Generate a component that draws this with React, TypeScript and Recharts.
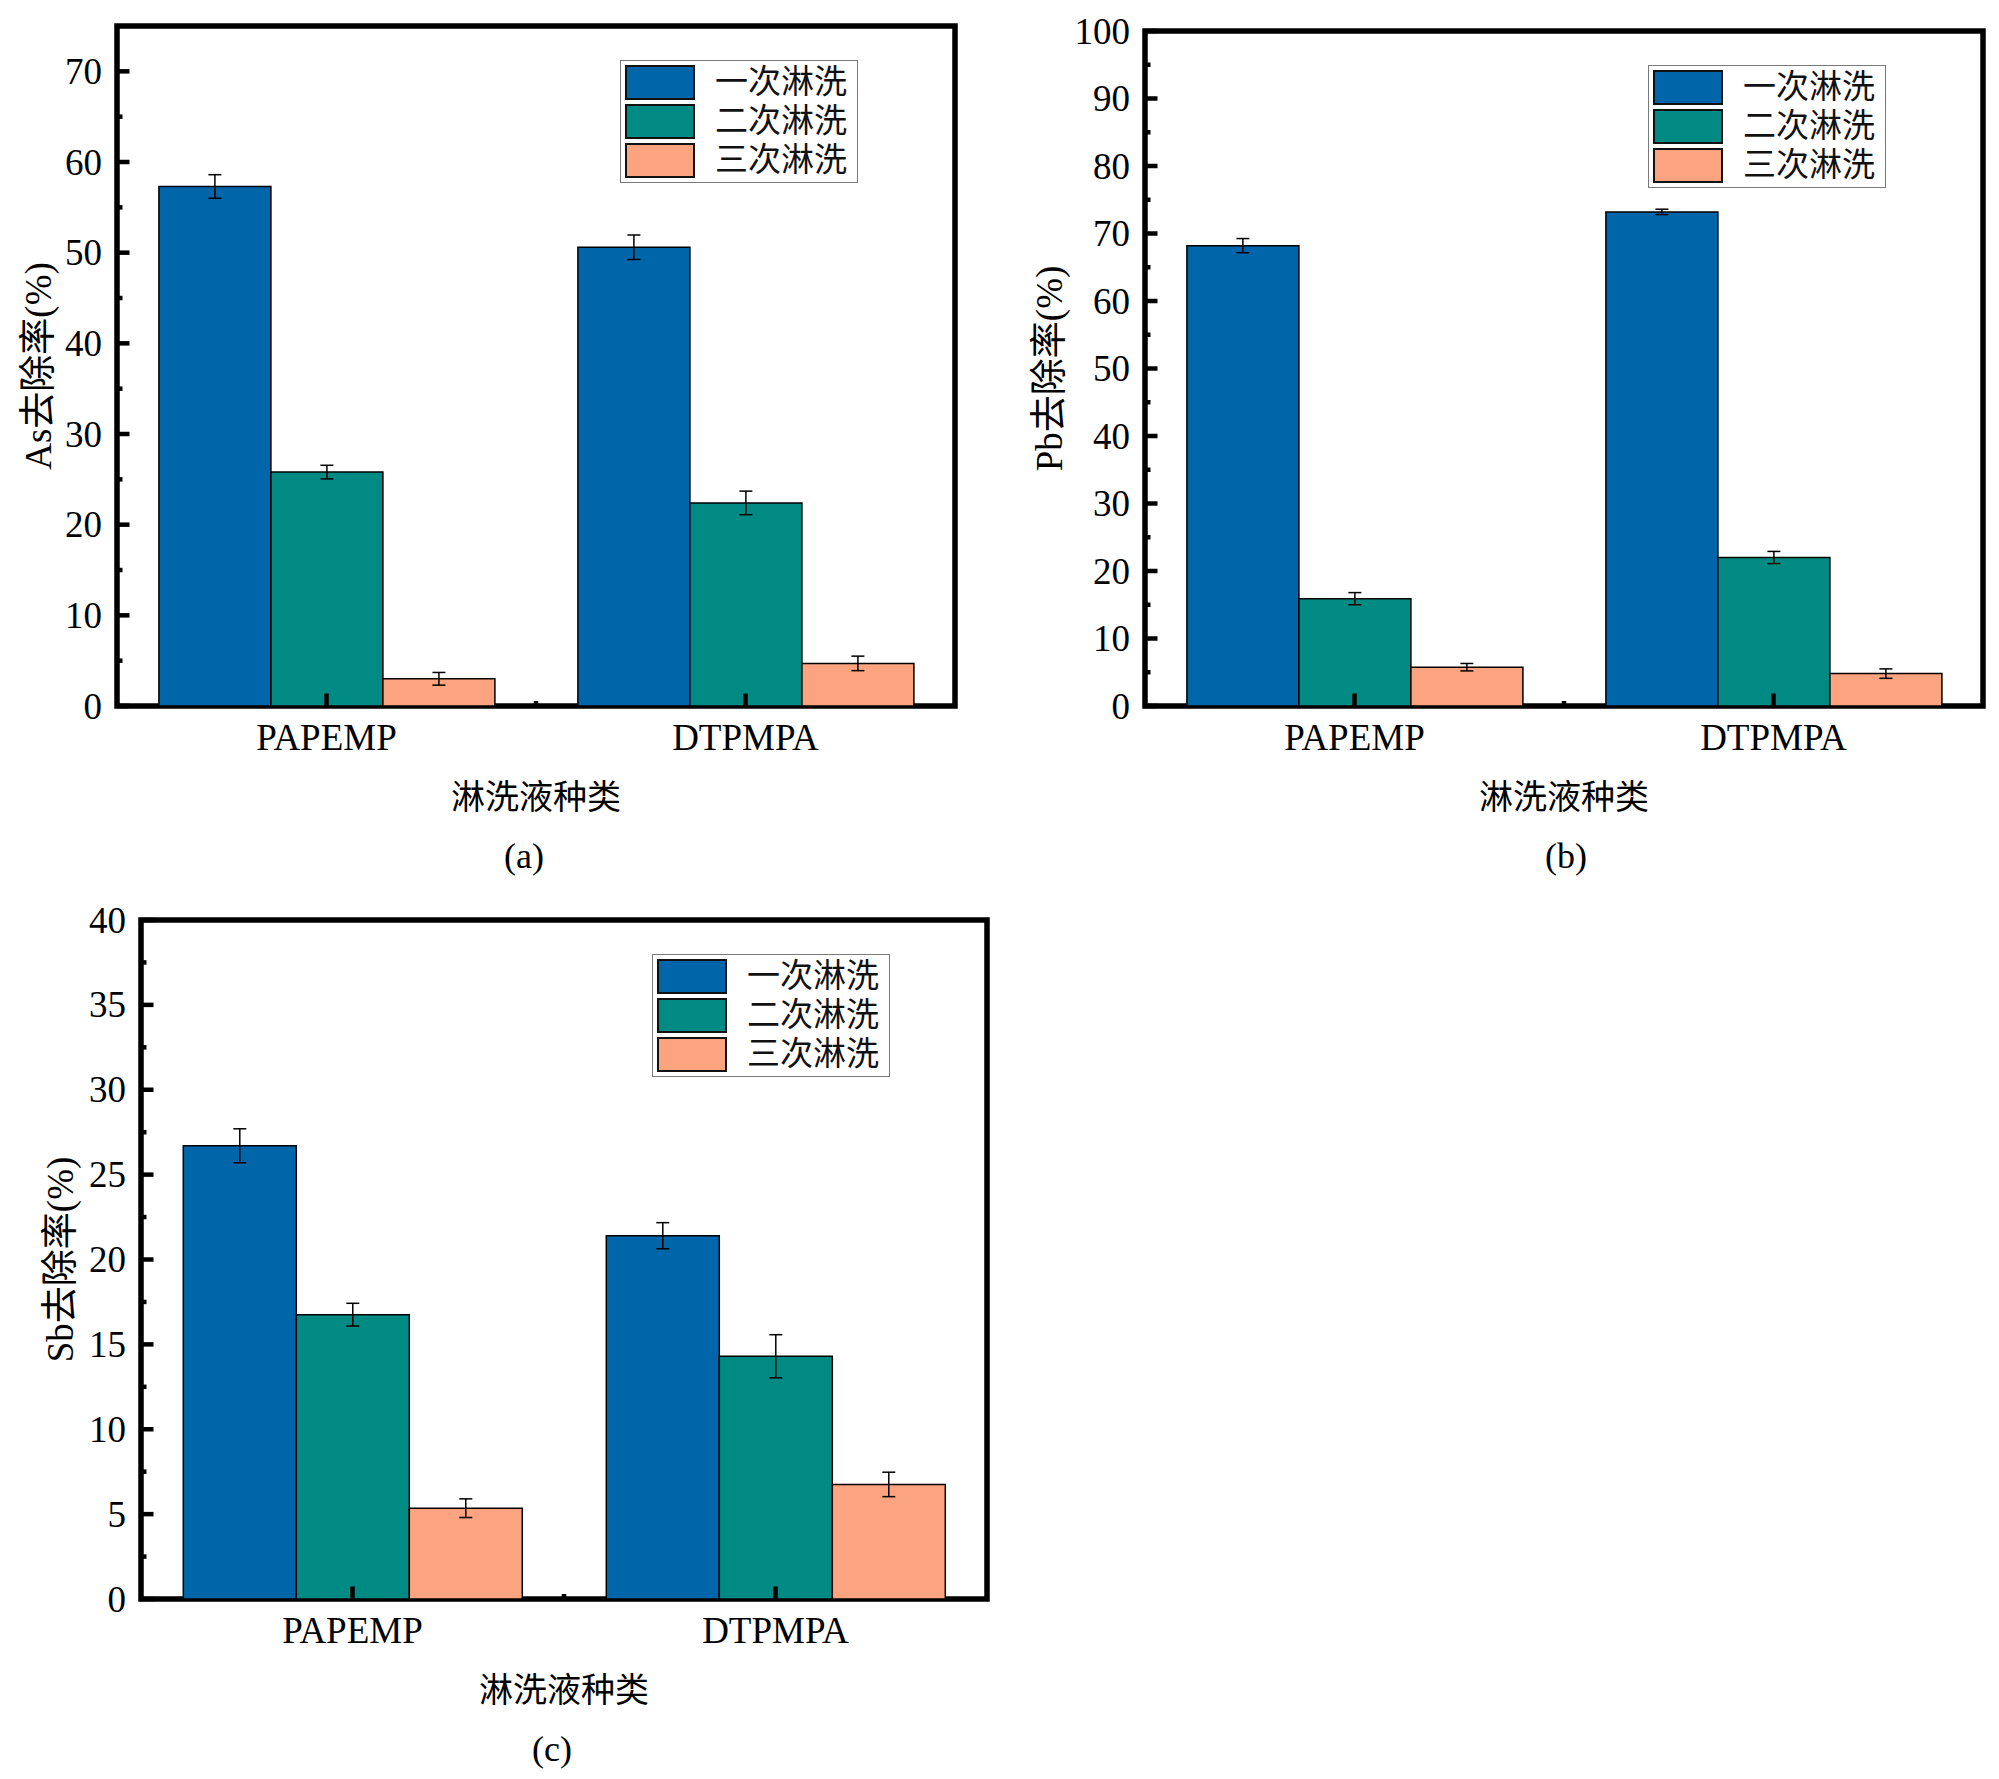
import React from 'react';
import { BarChart, Bar, XAxis, YAxis, ErrorBar, ReferenceArea } from 'recharts';

const SERIF = '"Liberation Serif", "Times New Roman", "Noto Sans CJK SC", serif';

const categories = ['PAPEMP', 'DTPMPA'];
const seriesNames = ['一次淋洗', '二次淋洗', '三次淋洗'];
const seriesColors = ['#0066A9', '#008A84', '#FCA47F'];

// (a) As removal
const asFirst = [57.3, 50.6];
const asFirstErr = [1.3, 1.35];
const asSecond = [25.8, 22.4];
const asSecondErr = [0.75, 1.3];
const asThird = [3.0, 4.7];
const asThirdErr = [0.7, 0.8];
const asMajorTicks = [0, 10, 20, 30, 40, 50, 60, 70];
const asMinorTicks = [5, 15, 25, 35, 45, 55, 65];

// (b) Pb removal
const pbFirst = [68.2, 73.2];
const pbFirstErr = [1.05, 0.4];
const pbSecond = [15.9, 22.0];
const pbSecondErr = [0.9, 0.9];
const pbThird = [5.75, 4.8];
const pbThirdErr = [0.55, 0.7];
const pbMajorTicks = [0, 10, 20, 30, 40, 50, 60, 70, 80, 90, 100];
const pbMinorTicks = [5, 15, 25, 35, 45, 55, 65, 75, 85, 95];

// (c) Sb removal
const sbFirst = [26.7, 21.4];
const sbFirstErr = [1.0, 0.77];
const sbSecond = [16.75, 14.3];
const sbSecondErr = [0.67, 1.27];
const sbThird = [5.35, 6.75];
const sbThirdErr = [0.55, 0.72];
const sbMajorTicks = [0, 5, 10, 15, 20, 25, 30, 35, 40];
const sbMinorTicks = [2.5, 7.5, 12.5, 17.5, 22.5, 27.5, 32.5, 37.5];

const buildRows = (vals: number[][], errs: number[][]) =>
  categories.map((name, i) => ({
    name,
    s0: vals[0][i], e0: errs[0][i],
    s1: vals[1][i], e1: errs[1][i],
    s2: vals[2][i], e2: errs[2][i],
  }));

type Rect = { left: number; top: number; right: number; bottom: number };

const YTick = (props: any) => {
  const { x, y, payload, majors } = props;
  const major = majors.includes(payload.value);
  return (
    <g>
      <line x1={x} x2={x + (major ? 12.5 : 5.5)} y1={y} y2={y} stroke="#000" strokeWidth={4.5} />
      {major && (
        <text x={x - 15} y={y} textAnchor="end" dominantBaseline="central" fontSize={37} fontFamily={SERIF} fill="#000">
          {payload.value}
        </text>
      )}
    </g>
  );
};

const XTick = (props: any) => {
  const { x, y, payload, index, band } = props;
  return (
    <g>
      <line x1={x} x2={x} y1={y} y2={y - 12.5} stroke="#000" strokeWidth={4.5} />
      {index < categories.length - 1 && (
        <line x1={x + band / 2} x2={x + band / 2} y1={y} y2={y - 5} stroke="#000" strokeWidth={4.5} />
      )}
      <text x={x} y={y + 31} textAnchor="middle" dominantBaseline="central" fontSize={37} fontFamily={SERIF} fill="#000">
        {payload.value}
      </text>
    </g>
  );
};

const LegendBox = ({ left, top }: { left: number; top: number }) => (
  <div
    style={{
      position: 'absolute', left, top, width: 238, height: 123,
      border: '1.5px solid #7a7a7a', boxSizing: 'border-box', background: '#fff',
    }}
  >
    {seriesNames.map((n, i) => (
      <div key={n} style={{ position: 'absolute', left: 4, top: 4 + i * 39, height: 35, display: 'flex', alignItems: 'center' }}>
        <div style={{ width: 70, height: 35, background: seriesColors[i], border: '2px solid #111', boxSizing: 'border-box' }} />
        <span style={{ marginLeft: 20, fontSize: 33, fontFamily: SERIF, color: '#111', lineHeight: '35px' }}>{n}</span>
      </div>
    ))}
  </div>
);

interface PanelProps {
  plot: Rect;
  data: any[];
  domain: [number, number];
  majors: number[];
  minors: number[];
  yTitle: string;
  yTitleGap: number;
  caption: string;
  captionShift: number;
}

const Panel = ({ plot, data, domain, majors, minors, yTitle, yTitleGap, caption, captionShift }: PanelProps) => {
  const plotW = plot.right - plot.left;
  const plotH = plot.bottom - plot.top;
  const width = plotW + 140;
  const height = plotH + 210;
  const ticks = [...majors, ...minors].sort((a, b) => a - b);
  return (
    <>
      <div style={{ position: 'absolute', left: plot.left - 120, top: plot.top - 30 }}>
        <BarChart
          width={width}
          height={height}
          data={data}
          margin={{ top: 30, left: 40, right: 20, bottom: 20 }}
          barCategoryGap="10%"
          barGap={0}
        >
          {[0, 1, 2].map((k) => (
            <Bar
              key={k}
              dataKey={`s${k}`}
              fill={seriesColors[k]}
              stroke="#000"
              strokeWidth={1.5}
              isAnimationActive={false}
            >
              <ErrorBar dataKey={`e${k}`} width={6.5} stroke="#000" strokeWidth={1.5} direction="y" />
            </Bar>
          ))}
          <ReferenceArea
            y1={domain[0]}
            y2={domain[1]}
            fill="none"
            fillOpacity={0}
            stroke="#000"
            strokeWidth={5.5}
            ifOverflow="visible"
          />
          <XAxis
            dataKey="name"
            height={160}
            axisLine={false}
            tickLine={false}
            tickSize={0}
            tickMargin={0}
            interval={0}
            tick={(p: any) => <XTick {...p} band={plotW / categories.length} />}
            label={(p: any) => {
              const vb = p.viewBox;
              return (
                <g>
                  <text x={vb.x + vb.width / 2} y={vb.y + 91} textAnchor="middle" dominantBaseline="central" fontSize={34} fontFamily={SERIF} fill="#000">
                    淋洗液种类
                  </text>
                  <text x={vb.x + vb.width / 2 + captionShift} y={vb.y + 150} textAnchor="middle" dominantBaseline="central" fontSize={36} fontFamily={SERIF} fill="#000">
                    {caption}
                  </text>
                </g>
              );
            }}
          />
          <YAxis
            width={80}
            domain={domain}
            ticks={ticks}
            interval={0}
            allowDataOverflow
            axisLine={false}
            tickLine={false}
            tickSize={0}
            tickMargin={0}
            tick={(p: any) => <YTick {...p} majors={majors} />}
            label={(p: any) => {
              const vb = p.viewBox;
              const cx = vb.x + vb.width - yTitleGap;
              const cy = vb.y + vb.height / 2;
              return (
                <text x={cx} y={cy} transform={`rotate(-90 ${cx} ${cy})`} textAnchor="middle" dominantBaseline="central" fontSize={37} fontFamily={SERIF} fill="#000">
                  {yTitle}
                </text>
              );
            }}
          />
        </BarChart>
      </div>
      <LegendBox left={plot.right - 97 - 238} top={plot.top + 34} />
    </>
  );
};

const asData = buildRows([asFirst, asSecond, asThird], [asFirstErr, asSecondErr, asThirdErr]);
const pbData = buildRows([pbFirst, pbSecond, pbThird], [pbFirstErr, pbSecondErr, pbThirdErr]);
const sbData = buildRows([sbFirst, sbSecond, sbThird], [sbFirstErr, sbSecondErr, sbThirdErr]);

export default function App() {
  return (
    <div style={{ position: 'absolute', left: 0, top: 0, width: 1999, height: 1779, background: '#fff', overflow: 'hidden' }}>
      <Panel
        plot={{ left: 117, top: 26, right: 955, bottom: 706 }}
        data={asData}
        domain={[0, 75]}
        majors={asMajorTicks}
        minors={asMinorTicks}
        yTitle="As去除率(%)"
        yTitleGap={79}
        caption="(a)"
        captionShift={-12}
      />
      <Panel
        plot={{ left: 1145, top: 31, right: 1983, bottom: 706 }}
        data={pbData}
        domain={[0, 100]}
        majors={pbMajorTicks}
        minors={pbMinorTicks}
        yTitle="Pb去除率(%)"
        yTitleGap={96}
        caption="(b)"
        captionShift={2}
      />
      <Panel
        plot={{ left: 141, top: 920, right: 987, bottom: 1599 }}
        data={sbData}
        domain={[0, 40]}
        majors={sbMajorTicks}
        minors={sbMinorTicks}
        yTitle="Sb去除率(%)"
        yTitleGap={81}
        caption="(c)"
        captionShift={-12}
      />
    </div>
  );
}
